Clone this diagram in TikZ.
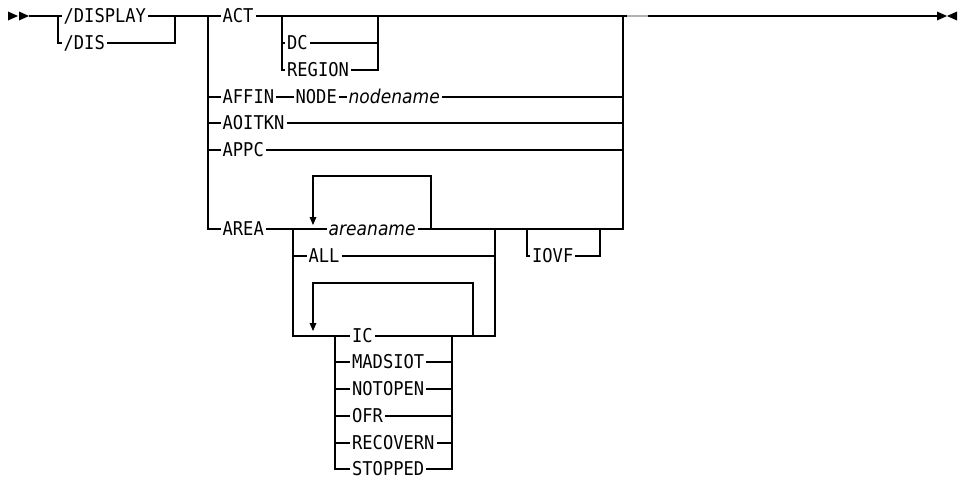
\documentclass[tikz,border=0pt]{standalone}
\usepackage{fontspec}
\setmainfont{DejaVu Sans Mono}[FakeStretch=0.9]
\newfontfamily\itfam{DejaVu Sans}[FakeStretch=0.9]
\begin{document}
\begin{tikzpicture}[x=1pt,y=-1pt,line width=1.3pt,
  lbl/.style={font=\fontsize{19}{22}\selectfont, inner xsep=1.5pt, inner ysep=0pt,
              text height=13.8pt, text depth=0pt, anchor=west},
  var/.style={lbl, font=\fontsize{19}{22}\selectfont\itfam\itshape},
  tip/.style={fill=black, draw=none}]
\useasboundingbox (0,0) rectangle (968,479);

% junction coordinates
\coordinate (s)   at (29,16);
\coordinate (jA)  at (58,16);
\coordinate (jB)  at (175,16);
\coordinate (jBd) at (175,43);
\coordinate (jC)  at (208,16);
\coordinate (jD)  at (282,16);
\coordinate (jE)  at (378,16);
\coordinate (jF)  at (623,16);
\coordinate (e)   at (937,16);
\coordinate (jG)  at (293,229);
\coordinate (jH)  at (431,229);
\coordinate (lp1) at (313,176);
\coordinate (ar1) at (313,217);
\coordinate (jI)  at (495,229);
\coordinate (jM)  at (527,229);
\coordinate (jO)  at (600,229);
\coordinate (jN)  at (623,229);
\coordinate (jJ)  at (335,336);
\coordinate (jK)  at (452,336);
\coordinate (jL)  at (473,336);
\coordinate (lp2) at (313,283);
\coordinate (ar2) at (313,323);

% labels
\node[lbl] (display)  at (61.5,16)  {/DISPLAY};
\node[lbl] (dis)      at (61.5,43)  {/DIS};
\node[lbl] (act)      at (220.5,16) {ACT};
\node[lbl] (dc)       at (285,43)   {DC};
\node[lbl] (region)   at (285,70)   {REGION};
\node[lbl] (affin)    at (220.5,97) {AFFIN};
\node[lbl] (nodekw)   at (293.5,97) {NODE};
\node[var] (nodename) at (346.5,97) {nodename};
\node[lbl] (aoitkn)   at (220.5,123) {AOITKN};
\node[lbl] (appc)     at (220.5,150) {APPC};
\node[lbl] (area)     at (220.5,229) {AREA};
\node[var] (areaname) at (326.5,229) {areaname};
\node[lbl] (all)      at (306.5,256) {ALL};
\node[lbl] (iovf)     at (530,256)   {IOVF};
\node[lbl] (ic)       at (350,336)   {IC};
\node[lbl] (madsiot)  at (350,362)   {MADSIOT};
\node[lbl] (notopen)  at (350,389)   {NOTOPEN};
\node[lbl] (ofr)      at (350,416)   {OFR};
\node[lbl] (recovern) at (350,443)   {RECOVERN};
\node[lbl] (stopped)  at (350,469)   {STOPPED};

% start and end marks
\fill[tip] (8,11.5) -- (18,16) -- (8,20.5) -- cycle;
\fill[tip] (19,11.5) -- (29,16) -- (19,20.5) -- cycle;
\fill[tip] (937,11.5) -- (947,16) -- (937,20.5) -- cycle;
\fill[tip] (957,11.5) -- (947,16) -- (957,20.5) -- cycle;

% command name
\draw (s) -- (jA) -- (display.west);
\draw (jA) |- (dis.west);
\draw (display.east) -- (jB) -- (jC) -- (act.west);
\draw (dis.east) -- (jBd) -- (jB);

% ACT
\draw (act.east) -- (jF) -- (e);
\draw (jD) |- (dc.west);
\draw (jD) |- (region.west);
\draw (dc.east) -| (jE);
\draw (region.east) -| (jE);

% AFFIN, AOITKN, APPC
\draw (jC) |- (affin.west);
\draw (affin.east) -- (nodekw.west);
\draw (nodekw.east) -- (nodename.west);
\draw (nodename.east) -| (jF);
\draw (jC) |- (aoitkn.west);
\draw (aoitkn.east) -| (jF);
\draw (jC) |- (appc.west);
\draw (appc.east) -| (jF);

% AREA
\draw (jC) |- (area.west);
\draw (area.east) -- (jG) -- (areaname.west);
\draw (jH) |- (lp1) -- (ar1);
\fill[tip] (309.5,217) -- (316.5,217) -- (313,225) -- cycle;
\draw (areaname.east) -- (jI);
\draw (jG) |- (all.west);
\draw (all.east) -| (jI);
\draw (jG) |- (ic.west);
\draw (ic.east) -- (jK) -- (jL) -| (jI);
\draw (jL) |- (lp2) -- (ar2);
\fill[tip] (309.5,323) -- (316.5,323) -- (313,331) -- cycle;
\draw (jJ) |- (madsiot.west);
\draw (jJ) |- (notopen.west);
\draw (jJ) |- (ofr.west);
\draw (jJ) |- (recovern.west);
\draw (jJ) |- (stopped.west);
\draw (madsiot.east) -| (jK);
\draw (notopen.east) -| (jK);
\draw (ofr.east) -| (jK);
\draw (recovern.east) -| (jK);
\draw (stopped.east) -| (jK);

% IOVF and return
\draw (jI) -- (jN) -- (jF);
\draw (jM) |- (iovf.west);
\draw (iovf.east) -| (jO);

% small grey mark on the main line
\draw[gray!60, line width=1.8pt] (627,15.6) -- (648,15.6);
\end{tikzpicture}
\end{document}
